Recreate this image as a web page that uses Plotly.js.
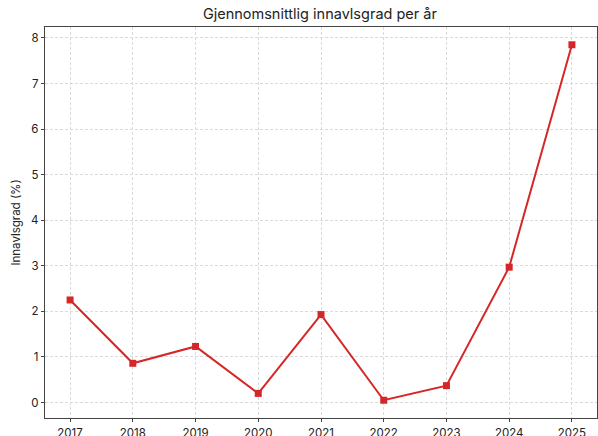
<!DOCTYPE html>
<html><head><meta charset="utf-8">
<script src="https://cdn.plot.ly/plotly-3.0.1.min.js"></script>
<style>html,body{margin:0;padding:0;background:#fff;}#chart{width:598px;height:436px;}</style>
</head><body><div id="chart"></div>
<script>
const years = [2017, 2018, 2019, 2020, 2021, 2022, 2023, 2024, 2025];
const innavlsgrad = [2.25, 0.86, 1.23, 0.20, 1.93, 0.05, 0.37, 2.97, 7.85];
const yTicks = [0, 1, 2, 3, 4, 5, 6, 7, 8];

const trace = {
  x: years, y: innavlsgrad, type: 'scatter', mode: 'lines+markers',
  line: {color: '#d62728', width: 2},
  marker: {symbol: 'square', size: 7, color: '#d62728'},
  hoverinfo: 'skip'
};
const axisCommon = {
  showline: true, mirror: true, linecolor: '#444', linewidth: 1.2,
  ticks: 'outside', ticklen: 3, tickcolor: '#444',
  showgrid: true, gridcolor: '#dadada', griddash: '3px,2px', gridwidth: 1,
  zeroline: false,
  tickfont: {family: 'Inter, "Open Sans", sans-serif', size: 11.5, color: '#222'}
};
const layout = {
  width: 598, height: 436,
  margin: {l: 45, r: 1, t: 27, b: 18},
  paper_bgcolor: '#fff', plot_bgcolor: '#fff',
  showlegend: false,
  title: {text: 'Gjennomsnittlig innavlsgrad per år', x: 0.535, xanchor: 'center', y: 0.968, yanchor: 'middle',
          font: {family: 'Inter, "Open Sans", sans-serif', size: 14.5, color: '#222'}},
  xaxis: Object.assign({}, axisCommon, {
    range: [2016.6, 2025.4], tickvals: years, ticktext: years.map(String), ticklabelstandoff: 1
  }),
  yaxis: Object.assign({}, axisCommon, {
    range: [-0.34, 8.24], tickvals: yTicks,
    title: {text: 'Innavlsgrad (%)', standoff: 8, font: {family: 'Inter, "Open Sans", sans-serif', size: 11.5, color: '#222'}}
  }),
  font: {family: 'Inter, "Open Sans", sans-serif'}
};
Plotly.newPlot('chart', [trace], layout, {displayModeBar: false, staticPlot: true});
</script></body></html>
